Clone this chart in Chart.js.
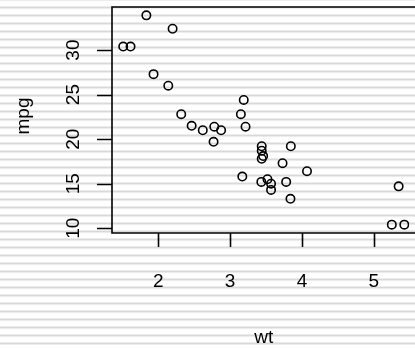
<!DOCTYPE html>
<html>
<head>
<meta charset="utf-8">
<script src="https://cdn.jsdelivr.net/npm/chart.js@4"></script>
<style>
  html, body { margin: 0; padding: 0; background: #fff; }
  canvas { display: block; }
</style>
</head>
<body>
<canvas id="chart" width="415" height="348"></canvas>
<script>
// mtcars: weight (1000 lbs) against miles per gallon
const wt = [2.620, 2.875, 2.320, 3.215, 3.440, 3.460, 3.570, 3.190, 3.150, 3.440, 3.440,
            4.070, 3.730, 3.780, 5.250, 5.424, 5.345, 2.200, 1.615, 1.835, 2.465, 3.520,
            3.435, 3.840, 3.845, 1.935, 2.140, 1.513, 3.170, 2.770, 3.570, 2.780];
const mpg = [21.0, 21.0, 22.8, 21.4, 18.7, 18.1, 14.3, 24.4, 22.8, 19.2, 17.8,
             16.4, 17.3, 15.2, 10.4, 10.4, 14.7, 32.4, 30.4, 33.9, 21.5, 15.5,
             15.2, 13.3, 19.2, 27.3, 26.0, 30.4, 15.8, 19.7, 15.0, 21.4];
const xTicks = [2, 3, 4, 5];
const yTicks = [10, 15, 20, 25, 30];
const xTitle = 'wt';
const yTitle = 'mpg';

const FONT = '19px "Liberation Sans", Arial, sans-serif';

// light horizontal banding behind everything
const stripes = {
  id: 'stripes',
  beforeDraw(chart) {
    const ctx = chart.ctx;
    ctx.save();
    ctx.fillStyle = '#fff';
    ctx.fillRect(0, 0, chart.width, chart.height);
    ctx.fillStyle = '#d9d9d9';
    for (let y = -1.5; y < chart.height; y += 8) {
      ctx.fillRect(0, y, chart.width, 2);
    }
    ctx.restore();
  }
};

// base-graphics style box, ticks and labels
const baseAxes = {
  id: 'baseAxes',
  afterDraw(chart) {
    const ctx = chart.ctx;
    const a = chart.chartArea;
    const xs = chart.scales.x, ys = chart.scales.y;
    ctx.save();
    ctx.strokeStyle = '#000';
    ctx.lineWidth = 1.6;

    // box (right side runs off the canvas)
    ctx.beginPath();
    ctx.moveTo(chart.width + 2, a.top);
    ctx.lineTo(a.left, a.top);
    ctx.lineTo(a.left, a.bottom);
    ctx.lineTo(chart.width + 2, a.bottom);
    ctx.stroke();

    ctx.fillStyle = '#000';
    ctx.font = FONT;

    // x axis
    ctx.textAlign = 'center';
    ctx.textBaseline = 'alphabetic';
    ctx.beginPath();
    xTicks.forEach(v => {
      const px = Math.round(xs.getPixelForValue(v)) + 0.5;
      ctx.moveTo(px, a.bottom);
      ctx.lineTo(px, a.bottom + 14);
    });
    ctx.stroke();
    xTicks.forEach(v => {
      ctx.fillText(String(v), xs.getPixelForValue(v), a.bottom + 54);
    });
    ctx.fillText(xTitle, (a.left + xs.getPixelForValue(xs.max + 0.09)) / 2, a.bottom + 110);

    // y axis, labels rotated
    ctx.beginPath();
    yTicks.forEach(v => {
      const py = Math.round(ys.getPixelForValue(v)) + 0.5;
      ctx.moveTo(a.left - 15, py);
      ctx.lineTo(a.left, py);
    });
    ctx.stroke();
    yTicks.forEach(v => {
      ctx.save();
      ctx.translate(a.left - 33, ys.getPixelForValue(v));
      ctx.rotate(-Math.PI / 2);
      ctx.fillText(String(v), 0, 0);
      ctx.restore();
    });
    ctx.save();
    ctx.translate(29, (a.top + a.bottom) / 2 - 4);
    ctx.rotate(-Math.PI / 2);
    ctx.fillText(yTitle, 0, 0);
    ctx.restore();

    ctx.restore();
  }
};

const points = wt.map((w, i) => ({ x: w, y: mpg[i] }));

new Chart(document.getElementById('chart'), {
  type: 'scatter',
  data: {
    datasets: [{
      data: points,
      pointStyle: 'circle',
      pointRadius: 4.2,
      pointBorderWidth: 1.6,
      borderColor: '#000',
      backgroundColor: 'rgba(0,0,0,0)'
    }]
  },
  options: {
    responsive: false,
    animation: false,
    layout: { padding: { top: 7, right: 0, bottom: 0, left: 0 } },
    plugins: { legend: { display: false }, tooltip: { enabled: false } },
    scales: {
      x: {
        type: 'linear',
        min: 1.357,
        max: 5.492,
        grid: { display: false },
        border: { display: false },
        ticks: { display: false },
        afterFit: s => { s.height = 115; }
      },
      y: {
        type: 'linear',
        min: 9.46,
        max: 34.84,
        grid: { display: false },
        border: { display: false },
        ticks: { display: false },
        afterFit: s => { s.width = 112; }
      }
    }
  },
  plugins: [stripes, baseAxes]
});
</script>
</body>
</html>
